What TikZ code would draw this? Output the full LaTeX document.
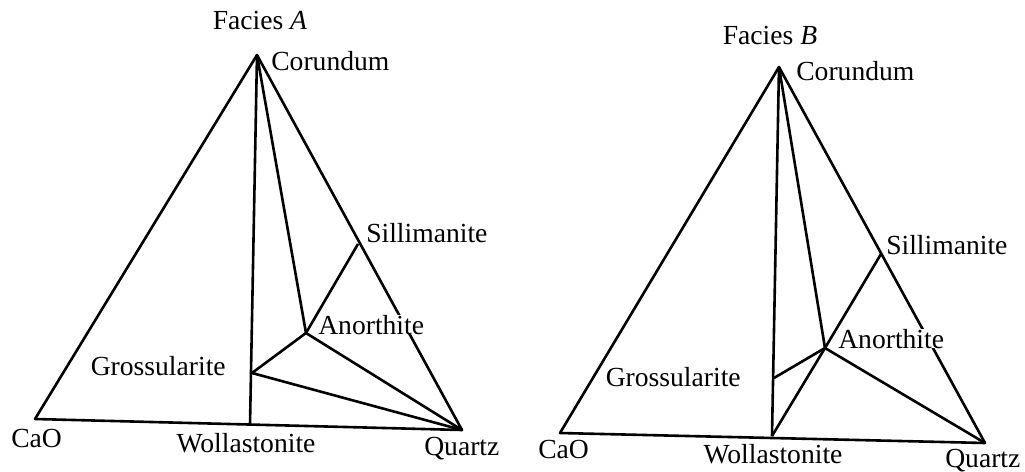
\documentclass[tikz,border=0pt]{standalone}
\usepackage{fontspec}
\setmainfont{Liberation Serif}
\usepackage{xcolor}

\begin{document}
\begin{tikzpicture}[x=0.5pt, y=-0.5pt, line width=1.3pt, line join=round,
    lbl/.style={font=\fontsize{13.8}{16}\selectfont, inner sep=0pt, fill=white}]
    \useasboundingbox (0,0) rectangle (1025,472);

    % Facies A
    \coordinate (corA) at (257,55);
    \coordinate (caoA) at (35,419);
    \coordinate (qtzA) at (462,430);
    \coordinate (wolA) at (250,425);
    \coordinate (grsA) at (252,373);
    \coordinate (anoA) at (306,333);
    \coordinate (silA) at (358,244);
    \draw (corA) -- (caoA) -- (qtzA) -- cycle;
    \draw (corA) -- (wolA);
    \draw (corA) -- (anoA) -- (qtzA);
    \draw (silA) -- (anoA) -- (grsA) -- (qtzA);
    \node[lbl, anchor=base] (titleA) at (260,29) {Facies \textit{A}};
    \node[lbl, anchor=base west] (corAL) at (270,70) {Corundum};
    \node[lbl, anchor=base west] (silAL) at (365,242) {Sillimanite};
    \node[lbl, anchor=base west] (anoAL) at (317,334) {Anorthite};
    \node[lbl, anchor=base east] (grsAL) at (227,375) {Grossularite};
    \node[lbl, anchor=base west] (caoAL) at (10,447) {CaO};
    \node[lbl, anchor=base] (wolAL) at (246,452) {Wollastonite};
    \node[lbl, anchor=base west] (qtzAL) at (423,455) {Quartz};

    % Facies B
    \coordinate (corB) at (779,67);
    \coordinate (caoB) at (560,433);
    \coordinate (qtzB) at (985,443);
    \coordinate (wolB) at (772,436);
    \coordinate (grsB) at (774,378);
    \coordinate (anoB) at (825,348);
    \coordinate (silB) at (881,254);
    \draw (corB) -- (caoB) -- (qtzB) -- cycle;
    \draw (corB) -- (wolB);
    \draw (corB) -- (anoB) -- (qtzB);
    \draw (silB) -- (anoB) -- (wolB);
    \draw (grsB) -- (anoB);
    \node[lbl, anchor=base] (titleB) at (770,44) {Facies \textit{B}};
    \node[lbl, anchor=base west] (corBL) at (795,80) {Corundum};
    \node[lbl, anchor=base west] (silBL) at (885,254) {Sillimanite};
    \node[lbl, anchor=base west] (anoBL) at (837,348) {Anorthite};
    \node[lbl, anchor=base east] (grsBL) at (742,386) {Grossularite};
    \node[lbl, anchor=base west] (caoBL) at (537,458) {CaO};
    \node[lbl, anchor=base] (wolBL) at (773,463) {Wollastonite};
    \node[lbl, anchor=base west] (qtzBL) at (944,467) {Quartz};
\end{tikzpicture}
\end{document}
